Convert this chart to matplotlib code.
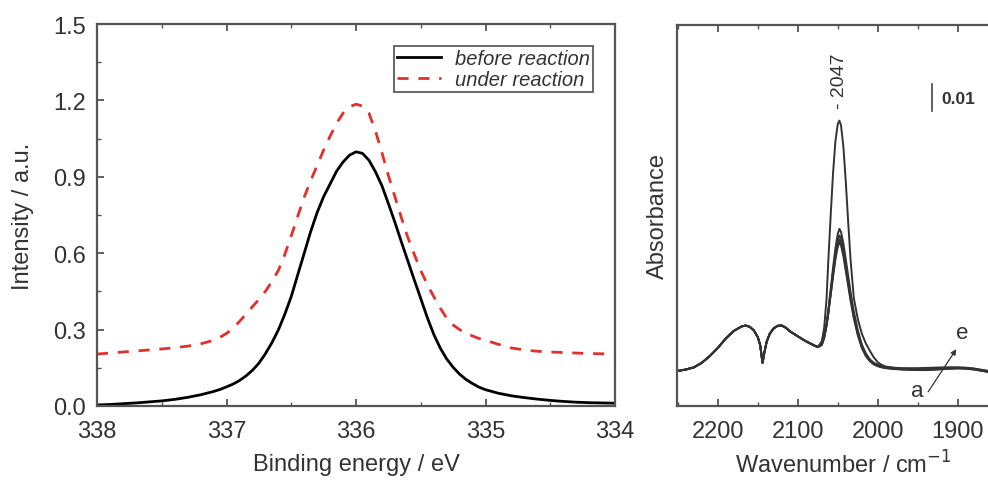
import numpy as np
import matplotlib
matplotlib.use('Agg')
import matplotlib.pyplot as plt
from matplotlib.ticker import MultipleLocator

plt.rcParams['font.family'] = ['Liberation Sans', 'DejaVu Sans']

# XPS data (binding energy, eV)
be = [338.0, 337.9, 337.8, 337.7, 337.6, 337.5, 337.4, 337.3, 337.2, 337.1,
      337.05, 337.0, 336.95, 336.9, 336.85, 336.8, 336.75, 336.7, 336.65, 336.6,
      336.55, 336.5, 336.45, 336.4, 336.35, 336.3, 336.25, 336.2, 336.15, 336.1,
      336.05, 336.0, 335.95, 335.9, 335.85, 335.8, 335.75, 335.7, 335.65, 335.6,
      335.55, 335.5, 335.45, 335.4, 335.35, 335.3, 335.25, 335.2, 335.15, 335.1,
      335.05, 335.0, 334.9, 334.8, 334.7, 334.6, 334.5, 334.4, 334.3, 334.2, 334.1, 334.0]
before = [0.004, 0.006, 0.009, 0.012, 0.016, 0.020, 0.026, 0.034, 0.044, 0.057,
          0.065, 0.075, 0.086, 0.100, 0.118, 0.140, 0.168, 0.205, 0.248, 0.298,
          0.360, 0.430, 0.515, 0.600, 0.685, 0.760, 0.822, 0.872, 0.922, 0.958,
          0.985, 0.998, 0.992, 0.965, 0.920, 0.865, 0.795, 0.722, 0.645, 0.570,
          0.495, 0.422, 0.348, 0.282, 0.228, 0.185, 0.152, 0.125, 0.104, 0.088,
          0.074, 0.064, 0.050, 0.040, 0.033, 0.027, 0.022, 0.018, 0.015, 0.013, 0.012, 0.011]
under = [0.204, 0.208, 0.212, 0.216, 0.220, 0.224, 0.229, 0.235, 0.244, 0.258,
         0.270, 0.285, 0.305, 0.332, 0.360, 0.390, 0.418, 0.450, 0.488, 0.532,
         0.595, 0.668, 0.745, 0.820, 0.885, 0.945, 1.005, 1.060, 1.110, 1.150,
         1.175, 1.185, 1.178, 1.150, 1.080, 0.995, 0.905, 0.822, 0.740, 0.662,
         0.595, 0.532, 0.478, 0.430, 0.385, 0.345, 0.318, 0.300, 0.286, 0.275,
         0.265, 0.258, 0.242, 0.228, 0.220, 0.215, 0.212, 0.210, 0.208, 0.206, 0.205, 0.204]

# IR data (wavenumber, cm-1), region shared by all spectra
wn_shared = [2250, 2240, 2230, 2220, 2210, 2200, 2190, 2180, 2170, 2165, 2160,
             2155, 2150, 2147, 2145, 2144, 2142, 2139, 2135, 2130, 2125, 2120,
             2115, 2110, 2100, 2090, 2080, 2075]
abs_shared = [0.0130, 0.0135, 0.0143, 0.0160, 0.0185, 0.0215, 0.0250, 0.0278,
              0.0295, 0.0298, 0.0293, 0.0280, 0.0255, 0.0225, 0.0180, 0.0160,
              0.0195, 0.0237, 0.0268, 0.0288, 0.0297, 0.0298, 0.0290, 0.0277,
              0.0258, 0.0240, 0.0225, 0.0218]
# carbonyl band region, one list per spectrum a..e
wn_band = [2070, 2067, 2064, 2062, 2059, 2056, 2053, 2050, 2048, 2046, 2043,
           2040, 2037, 2034, 2030, 2025, 2020, 2015, 2010, 2005, 2000, 1995,
           1990, 1980, 1970, 1960, 1950, 1940, 1930, 1920, 1910, 1900, 1890,
           1880, 1870, 1860]
ir_a = [0.0226, 0.0252, 0.0298, 0.0338, 0.0408, 0.0478, 0.0543, 0.0590, 0.0605,
        0.0595, 0.0555, 0.0500, 0.0445, 0.0390, 0.0325, 0.0262, 0.0215, 0.0185,
        0.0166, 0.0154, 0.0147, 0.0143, 0.0140, 0.0137, 0.0135, 0.0134, 0.0133,
        0.0133, 0.0134, 0.0136, 0.0138, 0.0139, 0.0138, 0.0135, 0.0130, 0.0125]
ir_b = [0.0227, 0.0254, 0.0300, 0.0342, 0.0414, 0.0486, 0.0553, 0.0602, 0.0617,
        0.0607, 0.0566, 0.0510, 0.0455, 0.0398, 0.0332, 0.0267, 0.0219, 0.0188,
        0.0168, 0.0156, 0.0149, 0.0144, 0.0141, 0.0138, 0.0136, 0.0135, 0.0134,
        0.0135, 0.0136, 0.0137, 0.0139, 0.0140, 0.0139, 0.0136, 0.0131, 0.0126]
ir_c = [0.0228, 0.0256, 0.0303, 0.0346, 0.0420, 0.0495, 0.0565, 0.0616, 0.0632,
        0.0622, 0.0580, 0.0522, 0.0466, 0.0407, 0.0340, 0.0273, 0.0223, 0.0191,
        0.0170, 0.0158, 0.0151, 0.0146, 0.0142, 0.0139, 0.0137, 0.0136, 0.0136,
        0.0137, 0.0138, 0.0139, 0.0140, 0.0141, 0.0140, 0.0137, 0.0132, 0.0127]
ir_d = [0.0230, 0.0259, 0.0308, 0.0352, 0.0430, 0.0510, 0.0584, 0.0638, 0.0656,
        0.0645, 0.0602, 0.0542, 0.0482, 0.0420, 0.0350, 0.0280, 0.0228, 0.0195,
        0.0173, 0.0160, 0.0153, 0.0148, 0.0144, 0.0141, 0.0139, 0.0138, 0.0138,
        0.0139, 0.0140, 0.0141, 0.0142, 0.0142, 0.0141, 0.0138, 0.0133, 0.0128]
ir_e = [0.0240, 0.0290, 0.0400, 0.0530, 0.0700, 0.0860, 0.0980, 0.1045, 0.1057,
        0.1040, 0.0960, 0.0830, 0.0680, 0.0540, 0.0400, 0.0322, 0.0268, 0.0232,
        0.0205, 0.0180, 0.0162, 0.0152, 0.0146, 0.0142, 0.0140, 0.0140, 0.0140,
        0.0141, 0.0142, 0.0143, 0.0143, 0.0143, 0.0142, 0.0139, 0.0134, 0.0129]

W, H = 988, 481
fig = plt.figure(figsize=(W / 100, H / 100), dpi=100)

spine_col = '#555555'
txt_col = '#333333'

# ---- left panel: XPS ----
ax1 = fig.add_axes([97 / W, (H - 407) / H, (615 - 97) / W, (407 - 25) / H])
ax1.plot(be, before, color='black', lw=2.0, label='before reaction')
ax1.plot(be, under, color='#e3302b', lw=2.0, ls=(0, (4, 3.5)), label='under reaction')
ax1.set_xlim(338, 334)
ax1.set_ylim(0, 1.5)
ax1.set_xticks([338, 337, 336, 335, 334])
ax1.xaxis.set_minor_locator(MultipleLocator(0.5))
ax1.yaxis.set_major_locator(MultipleLocator(0.3))
ax1.yaxis.set_minor_locator(MultipleLocator(0.15))
ax1.tick_params(which='both', direction='in', top=True, right=False,
                labelsize=17, colors=spine_col, labelcolor=txt_col)
ax1.tick_params(which='major', length=5, width=1.3)
ax1.tick_params(which='minor', length=3, width=1.0)
ax1.tick_params(axis='x', pad=10)
ax1.tick_params(axis='y', pad=8)
ax1.set_xlabel('Binding energy / eV', fontsize=17, color=txt_col, labelpad=8)
ax1.set_ylabel('Intensity / a.u.', fontsize=17, color=txt_col, labelpad=14)
for s in ax1.spines.values():
    s.set_color(spine_col)
    s.set_linewidth(1.6)
leg = ax1.legend(loc='upper right', bbox_to_anchor=(0.9575, 0.942),
                 prop={'style': 'italic', 'size': 14.5}, frameon=True, fancybox=False,
                 edgecolor=txt_col, handlelength=2.2, borderpad=0.15,
                 labelspacing=0.1, handletextpad=0.7, borderaxespad=0)
leg.get_frame().set_linewidth(1.3)
for t in leg.get_texts():
    t.set_color(txt_col)

# ---- right panel: IR ----
x_right = 1010
ax2 = fig.add_axes([677 / W, (H - 407) / H, (x_right - 677) / W, (407 - 26) / H])
for vals in [ir_a, ir_b, ir_c, ir_d, ir_e]:
    ax2.plot(wn_shared + wn_band, abs_shared + vals, color='#333333', lw=1.4)
ax2.set_xlim(2251, 2251 - (x_right - 677) / 0.8)
ax2.set_ylim(0, 381 / 2700)
ax2.xaxis.set_major_locator(MultipleLocator(100))
ax2.xaxis.set_minor_locator(MultipleLocator(50))
ax2.set_yticks([])
ax2.tick_params(which='both', direction='in', top=True, labelsize=17,
                colors=spine_col, labelcolor=txt_col, pad=10)
ax2.tick_params(which='major', length=5, width=1.3)
ax2.tick_params(which='minor', length=3, width=1.0)
ax2.set_xlabel('Wavenumber / cm$^{-1}$', fontsize=17, color=txt_col, labelpad=6)
ax2.set_ylabel('Absorbance', fontsize=17, color=txt_col, labelpad=6)
for s in ax2.spines.values():
    s.set_color(spine_col)
    s.set_linewidth(1.6)

ax2.text(2047.5, 0.1105, '- 2047', rotation=90, ha='center', va='bottom',
         fontsize=14, color=txt_col)
ax2.plot([1932.5, 1932.5], [0.1093, 0.1193], color='#444444', lw=1.2)
ax2.text(1921, 0.1140, '0.01', fontsize=12.5, fontweight='bold', ha='left',
         va='center', color=txt_col)
ax2.annotate('', xy=(1900, 0.0219), xytext=(1939, 0.0044),
             arrowprops=dict(arrowstyle='-|>', color=txt_col, lw=0.9,
                             mutation_scale=8))
ax2.text(1951, 0.0056, 'a', fontsize=16, ha='center', va='center', color=txt_col)
ax2.text(1894, 0.0274, 'e', fontsize=16, ha='center', va='center', color=txt_col)

fig.savefig('out.png', dpi=100)
